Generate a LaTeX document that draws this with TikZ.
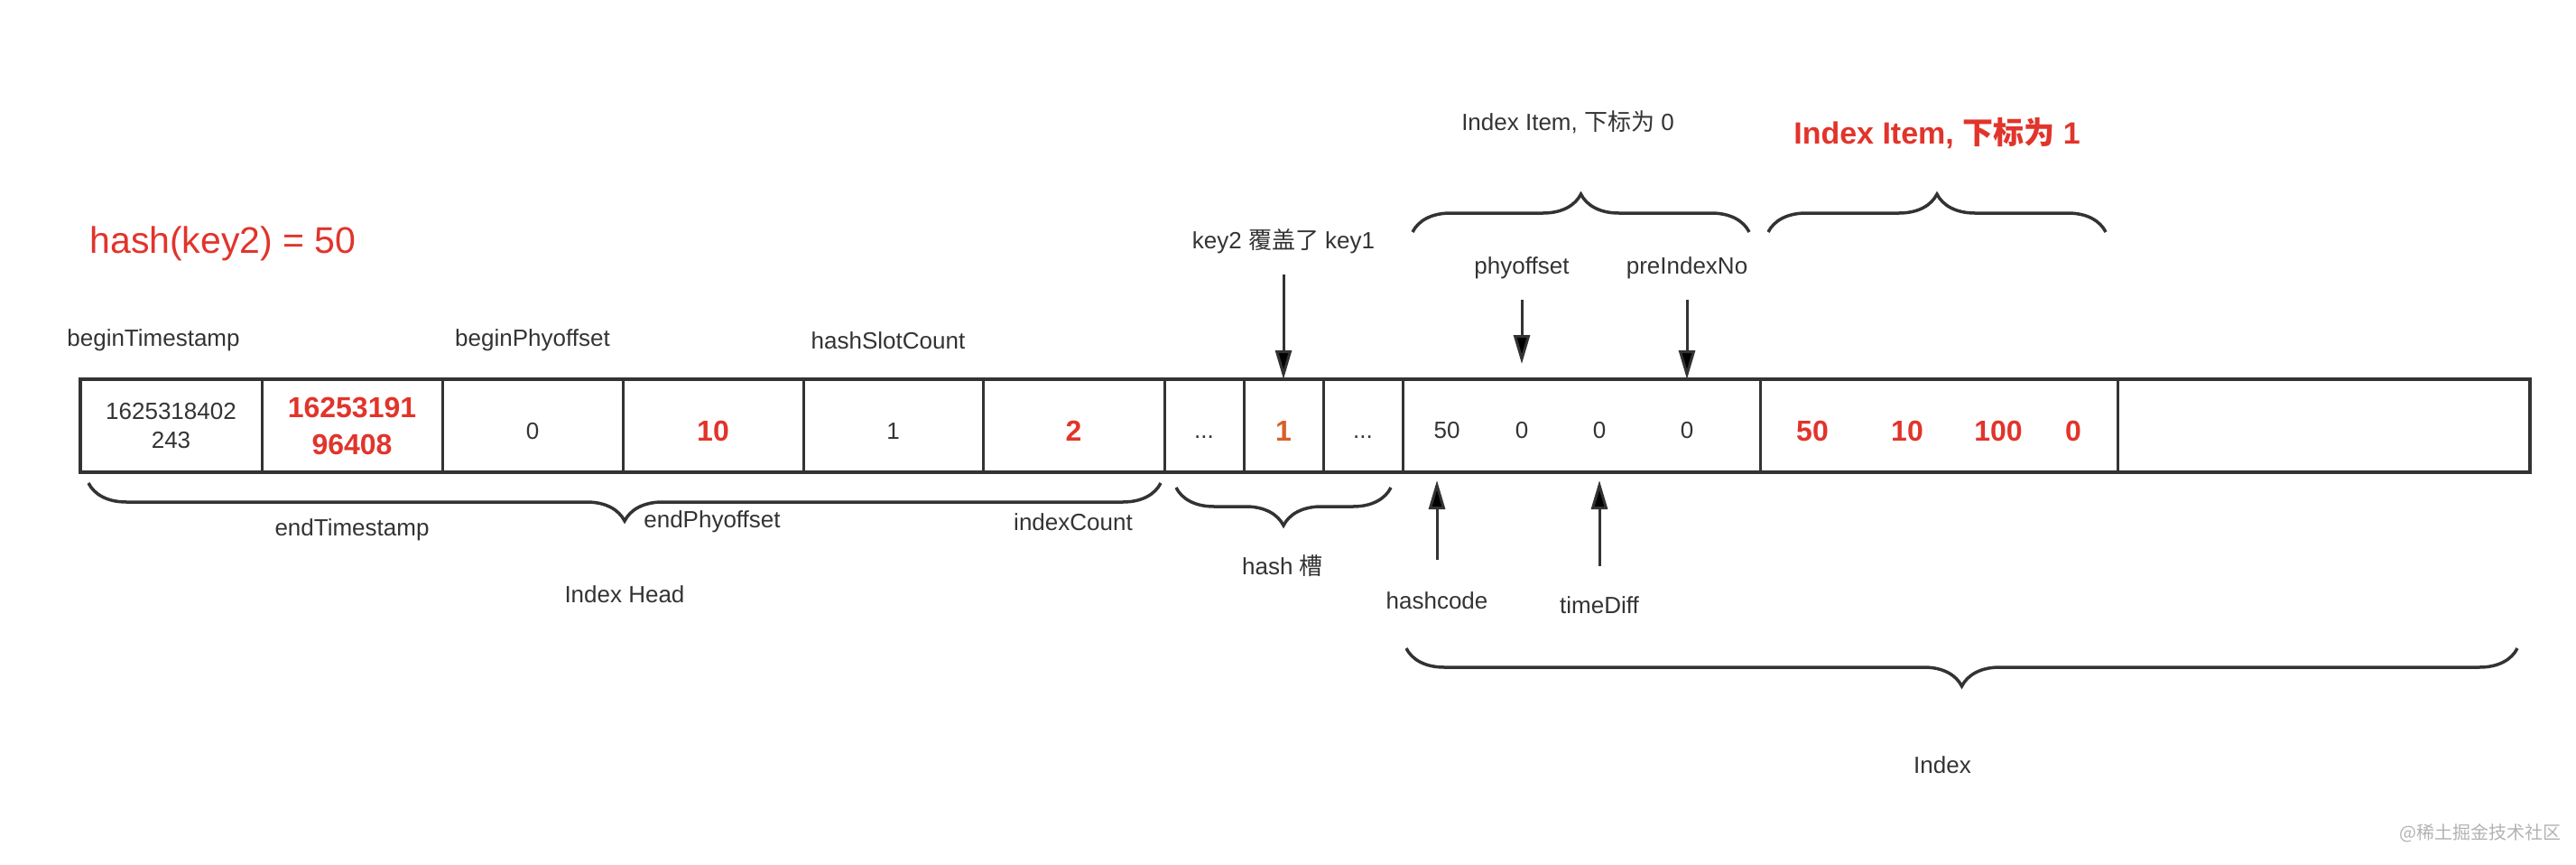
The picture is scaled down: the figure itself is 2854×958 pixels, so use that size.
\documentclass[tikz,border=0pt]{standalone}
\usepackage{fontspec}
\setmainfont{Liberation Sans}
\newfontfamily\cjk{Noto Sans CJK SC}
\usepackage{tikz}
\usetikzlibrary{arrows.meta,positioning}
\usetikzlibrary{decorations.pathreplacing}
\definecolor{ink}{HTML}{333333}
\definecolor{hot}{HTML}{E1342B}
\definecolor{amber}{HTML}{D8602A}
\tikzset{
  txt/.style={inner sep=0pt,text=ink,font=\fontsize{26}{32}\selectfont},
  hotbig/.style={text=hot,font=\bfseries\fontsize{32}{41}\selectfont},
  cell/.style={draw=ink,line width=3pt,minimum height=103pt,inner sep=0pt,outer sep=0pt,
    align=center,text=ink,font=\fontsize{26}{32}\selectfont},
  low/.style={text height=#1,text depth=0pt},
  arr/.style={->,>={Triangle[length=32pt,width=18pt]},line width=3pt,draw=ink},
  brc/.style={decorate,decoration={brace,amplitude=42pt},line width=3.5pt,draw=ink},
}

\begin{document}
\begin{tikzpicture}[x=1pt,y=-1pt]
\useasboundingbox (0,0) rectangle (2854,958);
% \draw[help lines,step=100] (0,0) grid (2854,958);
% the row of cells
\node (bts) [cell,minimum width=201pt,anchor=west] at (89,471.5) {1625318402\\243};
\node (ets) [cell,minimum width=200pt,right=0pt of bts,hotbig] {16253191\\96408};
\node (bpo) [cell,minimum width=200pt,right=0pt of ets,low=29.6pt] {0};
\node (epo) [cell,minimum width=200pt,right=0pt of bpo,hotbig,low=34pt] {10};
\node (hsc) [cell,minimum width=199pt,right=0pt of epo,low=29.6pt] {1};
\node (ic) [cell,minimum width=201pt,right=0pt of hsc,hotbig,low=34pt] {2};
\node (sa) [cell,minimum width=88pt,right=0pt of ic,low=27pt] {...};
\node (sb) [cell,minimum width=88pt,right=0pt of sa,hotbig,text=amber,low=34pt] {1};
\node (sc) [cell,minimum width=88pt,right=0pt of sb,low=27pt] {...};
\node (it0) [cell,minimum width=396pt,right=0pt of sc] {};
\node (it1) [cell,minimum width=396pt,right=0pt of it0] {};
\node (rest) [cell,minimum width=457pt,right=0pt of it1] {};
\draw[ink,line width=4pt] (bts.north west) rectangle (rest.south east);
%
\node (v1) [txt] at (1603,477) {50};
\node (v2) [txt] at (1686,477) {0};
\node (v3) [txt] at (1772,477) {0};
\node (v4) [txt] at (1869,477) {0};
\node (w1) [txt,hotbig] at (2008,477) {50};
\node (w2) [txt,hotbig] at (2113,477) {10};
\node (w3) [txt,hotbig] at (2214,477) {100};
\node (w4) [txt,hotbig] at (2297,477) {0};
% labels above
\node (hashk) [txt,text=hot,font=\fontsize{41}{48}\selectfont] at (247,270) {hash(key2) = 50};
\node (lbts) [txt] at (170,377) {beginTimestamp};
\node (lbpo) [txt] at (590,377) {beginPhyoffset};
\node (lhsc) [txt] at (984,377) {hashSlotCount};
\node (lkey) [txt] at (1422,267) {key2 {\cjk 覆盖了} key1};
\node (litem0) [txt] at (1737,135) {Index Item, {\cjk 下标为} 0};
\node (litem1) [txt,text=hot,font=\bfseries\fontsize{34}{40}\selectfont] at (2146,148) {Index Item, {\cjk 下标为} 1};
\node (lphy) [txt] at (1686,297) {phyoffset};
\node (lpre) [txt] at (1869,297) {preIndexNo};
% labels below
\node (lets) [txt] at (390,587) {endTimestamp};
\node (lepo) [txt] at (789,578) {endPhyoffset};
\node (lic) [txt] at (1189,578) {indexCount};
\node (lslot) [txt] at (1421,627) {hash {\cjk 槽}};
\node (lhead) [txt] at (692,658) {Index Head};
\node (lhc) [txt] at (1592,665) {hashcode};
\node (ltd) [txt] at (1772,670) {timeDiff};
\node (lidx) [txt] at (2152,847) {Index};
\node (mark) [txt,text=black!30,font=\cjk\fontsize{20}{24}\selectfont] at (2748,923) {@稀土掘金技术社区};
%
\path[arr,shorten <=23pt] (lkey) edge (sb);
\path[arr,shorten <=23pt,shorten >=17pt] (lphy) edge (v2 |- it0.north);
\path[arr,shorten <=23pt] (lpre) edge (v4 |- it0.north);
\path[arr,shorten <=35pt,shorten >=9pt] (lhc) edge (lhc |- it0.south);
\path[arr,shorten <=33pt,shorten >=9pt] (ltd) edge (ltd |- it0.south);
% braces
\draw[brc] (1286,535) -- (98,535);
\draw[brc] (1541,540) -- (1303,540);
\draw[brc] (1565,257) -- (1938,257);
\draw[brc] (1959,257) -- (2333,257);
\draw[brc] (2789,718) -- (1558,718);
\end{tikzpicture}
\end{document}
